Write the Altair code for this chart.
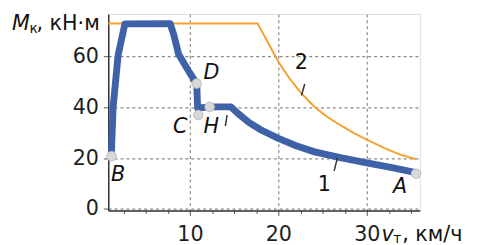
import altair as alt
import pandas as pd

# curve 2 (orange)
orange_v = [0.76, 17.65, 18.5, 20.0, 21.3, 22.6, 24.1, 25.5, 27.0, 28.5, 30.0, 32.0, 33.7, 35.55]
orange_m = [73.0, 73.0, 67.6, 58.0, 51.2, 45.5, 40.2, 36.3, 33.0, 30.0, 27.3, 24.0, 21.5, 19.6]

# curve 1 (blue)
blue_v = [1.1, 1.31, 1.87, 2.64, 7.76, 8.17, 8.72, 9.83, 10.76, 10.87, 12.24, 14.64,
          15.5, 16.7, 18.0, 20.0, 22.0, 24.1, 27.0, 30.0, 33.0, 35.55]
blue_m = [20.8, 40.1, 60.5, 72.9, 73.0, 68.6, 60.9, 54.4, 49.4, 39.7, 40.2, 40.2,
          37.4, 34.0, 31.2, 27.8, 24.9, 22.5, 20.2, 18.2, 16.2, 14.3]

# marked points
pt_name = ["B", "D", "C", "H", "A"]
pt_v = [1.12, 10.76, 10.94, 12.23, 35.57]
pt_m = [20.8, 49.4, 37.0, 40.2, 13.9]

# letter labels
lab_text = ["D", "C", "H", "B", "A"]
lab_v = [12.42, 8.9, 12.42, 1.87, 33.76]
lab_m = [53.7, 32.4, 32.4, 13.4, 8.7]

# curve number labels
num_text = ["1", "2"]
num_v = [25.2, 22.6]
num_m = [9.5, 57.6]

# leader strokes
lead_v = [22.61, 26.31, 14.0]
lead_m = [44.7, 15.0, 32.6]
lead_v2 = [22.98, 26.68, 14.2]
lead_m2 = [49.2, 20.2, 37.0]

x_ticks = [2.5, 5, 7.5, 10, 12.5, 15, 17.5, 20, 22.5, 25, 27.5, 30, 32.5, 35]
y_ticks = [0, 20, 40, 60]

FONT = "DejaVu Sans"
FS = 21

xscale = alt.Scale(domain=[0.76, 36], nice=False, zero=False)
yscale = alt.Scale(domain=[-0.6, 76.8], nice=False, zero=False)

xaxis = alt.Axis(
    values=x_ticks, title=None,
    labelExpr="datum.value % 10 === 0 ? datum.label : ''",
    labelFont=FONT, labelFontSize=FS, labelColor="#1e1e1e", labelPadding=8,
    tickSize={"condition": {"test": "datum.value % 10 === 0", "value": 5}, "value": 3},
    tickColor="#555", domainColor="#333", domainWidth=1.5,
    grid=True, gridDash=[3, 3], gridColor="#8a8a8a", gridWidth=1.2,
    gridOpacity={"condition": {"test": "datum.value % 10 === 0", "value": 1}, "value": 0},
)
yaxis = alt.Axis(
    values=y_ticks, title=None,
    labelFont=FONT, labelFontSize=FS, labelColor="#1e1e1e", labelPadding=5,
    tickSize=5, tickColor="#555", domainColor="#333", domainWidth=1.5,
    grid=True, gridDash=[3, 3], gridColor="#8a8a8a", gridWidth=1.2,
)


def X(field="v"):
    return alt.X(f"{field}:Q", scale=xscale, axis=xaxis)


def Y(field="m"):
    return alt.Y(f"{field}:Q", scale=yscale, axis=yaxis)


orange_df = pd.DataFrame({"v": orange_v, "m": orange_m, "o": range(len(orange_v))})
blue_df = pd.DataFrame({"v": blue_v, "m": blue_m, "o": range(len(blue_v))})
pt_df = pd.DataFrame({"v": pt_v, "m": pt_m, "n": pt_name})
lab_df = pd.DataFrame({"v": lab_v, "m": lab_m, "t": lab_text})
num_df = pd.DataFrame({"v": num_v, "m": num_m, "t": num_text})
lead_df = pd.DataFrame({"v": lead_v, "m": lead_m, "v2": lead_v2, "m2": lead_m2})

orange = alt.Chart(orange_df).mark_line(color="#f5a033", strokeWidth=2).encode(
    x=X(), y=Y(), order="o:Q")
blue = alt.Chart(blue_df).mark_line(color="#3f61a8", strokeWidth=7, strokeJoin="round").encode(
    x=X(), y=Y(), order="o:Q")
dots = alt.Chart(pt_df).mark_circle(size=95, color="#d8d8d8", opacity=1,
                                    stroke="#bdbdbd", strokeWidth=1).encode(x=X(), y=Y())
labs = alt.Chart(lab_df).mark_text(font=FONT, fontSize=FS, fontStyle="italic",
                                   color="#111", baseline="middle", align="center").encode(
    x=X(), y=Y(), text="t:N")
nums = alt.Chart(num_df).mark_text(font=FONT, fontSize=FS, color="#111",
                                   baseline="middle", align="center").encode(
    x=X(), y=Y(), text="t:N")
leads = alt.Chart(lead_df).mark_rule(color="#333", strokeWidth=1.5).encode(
    x=X(), y=Y(), x2="v2:Q", y2="m2:Q")

# axis titles (with subscripts)
ttl = pd.DataFrame({"a": [0]})
y_m = alt.Chart(ttl).mark_text(text="M", font=FONT, fontSize=FS, fontStyle="italic",
                               align="left", baseline="alphabetic", color="#111").encode(
    x=alt.value(-98), y=alt.value(16.5))
y_k = alt.Chart(ttl).mark_text(text="к", font=FONT, fontSize=14,
                               align="left", baseline="alphabetic", color="#111").encode(
    x=alt.value(-80), y=alt.value(19.5))
y_u = alt.Chart(ttl).mark_text(text=", кН·м", font=FONT, fontSize=FS,
                               align="left", baseline="alphabetic", color="#111").encode(
    x=alt.value(-73), y=alt.value(16.5))
x_v = alt.Chart(ttl).mark_text(text="v", font=FONT, fontSize=FS, fontStyle="italic",
                               align="left", baseline="alphabetic", color="#111").encode(
    x=alt.value(278), y=alt.value(231))
x_t = alt.Chart(ttl).mark_text(text="т", font=FONT, fontSize=14,
                               align="left", baseline="alphabetic", color="#111").encode(
    x=alt.value(290), y=alt.value(233))
x_u = alt.Chart(ttl).mark_text(text=", км/ч", font=FONT, fontSize=FS,
                               align="left", baseline="alphabetic", color="#111").encode(
    x=alt.value(299), y=alt.value(231))

chart = alt.layer(orange, blue, leads, dots, labs, nums, y_m, y_k, y_u, x_v, x_t, x_u).properties(
    width=317, height=200,
    autosize=alt.AutoSizeParams(type="none"),
    padding={"left": 102, "top": 4, "right": 50, "bottom": 33},
).configure_view(stroke="#a0a0a0", strokeWidth=1.2).configure(background="white")

chart.save("out.html", embed_options={"renderer": "svg", "actions": False})
